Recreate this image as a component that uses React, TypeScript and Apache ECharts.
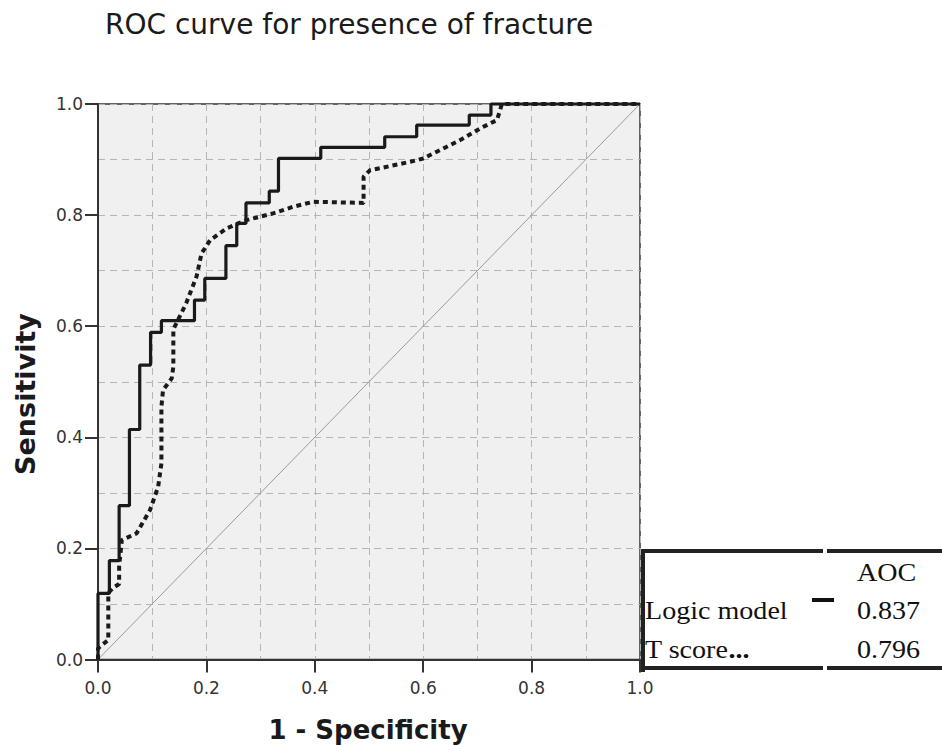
import React, { useEffect, useRef } from "react";
import * as echarts from "echarts";

const titleText = "ROC curve for presence of fracture";
const xAxisTitle = "1 - Specificity";
const yAxisTitle = "Sensitivity";

// Logic model (solid step curve): 1 - specificity / sensitivity corner points
const logicFpr = [0, 0, 0.021, 0.039, 0.058, 0.077, 0.097, 0.117, 0.178, 0.197, 0.236, 0.256, 0.273, 0.316, 0.333, 0.411, 0.529, 0.588, 0.685, 0.725, 1.0];
const logicTpr = [0, 0.119, 0.178, 0.277, 0.414, 0.53, 0.589, 0.61, 0.647, 0.686, 0.745, 0.785, 0.822, 0.843, 0.902, 0.922, 0.941, 0.962, 0.98, 1.0, 1.0];

// T score (dotted curve)
const tscoreFpr = [0, 0, 0.007, 0.019, 0.019, 0.028, 0.039, 0.039, 0.044, 0.071, 0.096, 0.111, 0.117, 0.117, 0.12, 0.136, 0.139, 0.139, 0.145, 0.163, 0.182, 0.191, 0.207, 0.237, 0.274, 0.323, 0.36, 0.397, 0.49, 0.49, 0.502, 0.533, 0.576, 0.6, 0.631, 0.668, 0.705, 0.736, 0.742, 0.745, 1.0];
const tscoreTpr = [0, 0.02, 0.026, 0.035, 0.12, 0.129, 0.136, 0.168, 0.215, 0.227, 0.269, 0.311, 0.353, 0.455, 0.485, 0.506, 0.527, 0.594, 0.606, 0.642, 0.69, 0.731, 0.755, 0.776, 0.791, 0.803, 0.815, 0.824, 0.822, 0.869, 0.881, 0.887, 0.896, 0.902, 0.917, 0.935, 0.956, 0.971, 0.989, 1.0, 1.0];

// Reference diagonal
const refX = [0, 1];
const refY = [0, 1];

// Legend table
const tableHeader = "AOC";
const tableNames = ["Logic model", "T score"];
const tableValues = ["0.837", "0.796"];

const zip = (a: number[], b: number[]) => a.map((v, i) => [v, b[i]]);

export default function App() {
  const ref = useRef<HTMLDivElement>(null);
  useEffect(() => {
    if (!ref.current) return;
    const chart = echarts.init(ref.current, null, { renderer: "svg" });
    const dark = "#1a1a1a";
    const gridDash = { color: "#b5b5b5", width: 1, type: [7, 5] as number[] };
    const axisCommon = {
      type: "value" as const,
      min: 0,
      max: 1,
      interval: 0.2,
      axisLine: { show: true, lineStyle: { color: "#333", width: 2 } },
      axisTick: { show: true, length: 13, lineStyle: { color: "#333", width: 2 } },
      splitLine: { show: true, lineStyle: gridDash },
      minorTick: { show: false, splitNumber: 2 },
      minorSplitLine: { show: true, lineStyle: gridDash },
    };
    const serif = "'Liberation Serif', 'Times New Roman', serif";
    const option: any = {
      animation: false,
      backgroundColor: "#ffffff",
      title: {
        text: titleText,
        left: 100,
        top: 5,
        textStyle: { fontFamily: "DejaVu Sans", fontSize: 28, fontWeight: "normal", color: dark },
      },
      grid: {
        left: 98,
        top: 104,
        width: 542,
        height: 555.5,
        show: true,
        backgroundColor: "#f0f0f0",
        borderColor: "#333",
        borderWidth: 1.5,
      },
      xAxis: {
        ...axisCommon,
        axisLabel: {
          margin: 20,
          fontFamily: "DejaVu Sans",
          fontSize: 17,
          color: "#333",
          formatter: (v: number) => v.toFixed(1),
        },
      },
      yAxis: {
        ...axisCommon,
        axisLabel: {
          margin: 15,
          fontFamily: "DejaVu Sans",
          fontSize: 17,
          color: "#333",
          formatter: (v: number) => v.toFixed(1),
        },
      },
      series: [
        {
          name: "Reference",
          type: "line",
          data: zip(refX, refY),
          symbol: "none",
          silent: true,
          lineStyle: { color: "#9a9a9a", width: 1 },
          z: 2,
        },
        {
          name: "T score...",
          type: "line",
          data: zip(tscoreFpr, tscoreTpr),
          symbol: "none",
          clip: false,
          lineStyle: { color: dark, width: 4, type: [5, 4], cap: "butt" },
          z: 3,
        },
        {
          name: "Logic model",
          type: "line",
          step: "end",
          data: zip(logicFpr, logicTpr),
          symbol: "none",
          clip: false,
          lineStyle: { color: dark, width: 3.2 },
          z: 4,
        },
      ],
      graphic: [
        // axis titles
        {
          type: "text",
          x: 25,
          y: 394,
          rotation: Math.PI / 2,
          style: {
            text: yAxisTitle,
            font: "bold 27px 'DejaVu Sans'",
            fill: dark,
            align: "center",
            verticalAlign: "middle",
          },
        },
        {
          type: "text",
          x: 368,
          y: 730,
          style: {
            text: xAxisTitle,
            font: "bold 26px 'DejaVu Sans'",
            fill: dark,
            align: "center",
            verticalAlign: "middle",
          },
        },
        // legend table borders
        { type: "rect", shape: { x: 643, y: 549, width: 180, height: 4 }, style: { fill: "#222" }, z: 10 },
        { type: "rect", shape: { x: 827, y: 549, width: 115, height: 4 }, style: { fill: "#222" }, z: 10 },
        { type: "rect", shape: { x: 643, y: 666, width: 180, height: 4 }, style: { fill: "#222" }, z: 10 },
        { type: "rect", shape: { x: 827, y: 666, width: 115, height: 4 }, style: { fill: "#222" }, z: 10 },
        { type: "rect", shape: { x: 641, y: 549, width: 4, height: 123 }, style: { fill: "#222" }, z: 10 },
        { type: "rect", shape: { x: 645, y: 553, width: 297, height: 113 }, style: { fill: "#ffffff" }, z: 9 },
        // legend line sample
        { type: "rect", shape: { x: 812, y: 598, width: 22, height: 4 }, style: { fill: "#111" }, z: 10 },
        // legend texts
        {
          type: "text", x: 857, y: 572, scaleX: 1.08, z: 10,
          style: { text: tableHeader, font: `26px ${serif}`, fill: "#111", verticalAlign: "middle" },
        },
        {
          type: "text", x: 645, y: 610, scaleX: 1.08, z: 10,
          style: { text: tableNames[0], font: `26px ${serif}`, fill: "#111", verticalAlign: "middle" },
        },
        {
          type: "text", x: 857, y: 610, scaleX: 1.08, z: 10,
          style: { text: tableValues[0], font: `26px ${serif}`, fill: "#111", verticalAlign: "middle" },
        },
        {
          type: "text", x: 645, y: 649, scaleX: 1.08, z: 10,
          style: {
            text: `{n|${tableNames[1]}}{b|...}`,
            verticalAlign: "middle",
            rich: {
              n: { font: `26px ${serif}`, fill: "#111" },
              b: { font: `bold 26px ${serif}`, fill: "#111" },
            },
          },
        },
        {
          type: "text", x: 857, y: 649, scaleX: 1.08, z: 10,
          style: { text: tableValues[1], font: `26px ${serif}`, fill: "#111", verticalAlign: "middle" },
        },
      ],
    };
    chart.setOption(option);
    return () => chart.dispose();
  }, []);
  return (
    <div
      ref={ref}
      style={{ position: "fixed", left: 0, top: 0, width: 942, height: 745, background: "#fff" }}
    />
  );
}
